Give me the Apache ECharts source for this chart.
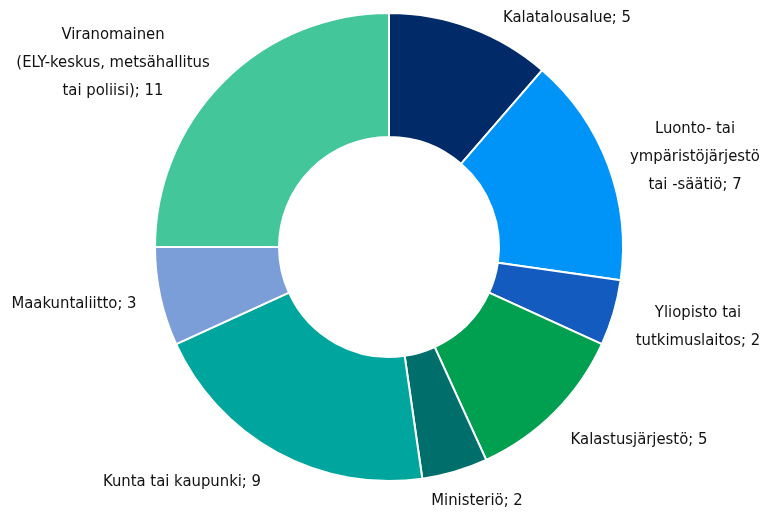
<!DOCTYPE html>
<html>
<head>
<meta charset="utf-8">
<script src="https://cdn.jsdelivr.net/npm/echarts@6/dist/echarts.min.js"></script>
<style>
  html, body { margin: 0; padding: 0; background: #fff; }
  #main { width: 762px; height: 515px; }
</style>
</head>
<body>
<div id="main"></div>
<script>
var categories = [
  'Kalatalousalue',
  'Luonto- tai\nympäristöjärjestö\ntai -säätiö',
  'Yliopisto tai\ntutkimuslaitos',
  'Kalastusjärjestö',
  'Ministeriö',
  'Kunta tai kaupunki',
  'Maakuntaliitto',
  'Viranomainen\n(ELY-keskus, metsähallitus\ntai poliisi)'
];
var values = [5, 7, 2, 5, 2, 9, 3, 11];
var colors = ['#002b68', '#0094f8', '#135bbf', '#00a050', '#006f6b', '#00a69d', '#7b9ed9', '#43c79a'];

// label centres (px)
var labelPos = [
  [567, 18], [695, 157], [698, 327], [639, 440],
  [477, 501], [182, 482], [74, 304], [113, 63]
];

var chart = echarts.init(document.getElementById('main'));

var data = categories.map(function (c, i) {
  return { name: c, value: values[i], itemStyle: { color: colors[i] } };
});

chart.setOption({
  animation: false,
  series: [{
    type: 'pie',
    center: [389, 247],
    radius: [110, 234],
    startAngle: 90,
    clockwise: true,
    itemStyle: { borderColor: '#fff', borderWidth: 2 },
    label: {
      show: true,
      position: 'outside',
      formatter: '{b}; {c}',
      fontFamily: '"Liberation Sans Narrow", "DejaVu Sans Condensed", sans-serif',
      fontSize: 16.5,
      lineHeight: 28,
      color: '#111',
      align: 'center',
      overflow: 'none'
    },
    labelLine: { show: false },
    labelLayout: function (p) {
      var pos = labelPos[p.dataIndex];
      return { x: pos[0], y: pos[1], align: 'center', verticalAlign: 'middle', width: 300 };
    },
    emphasis: { disabled: true },
    data: data
  }]
});
</script>
</body>
</html>
